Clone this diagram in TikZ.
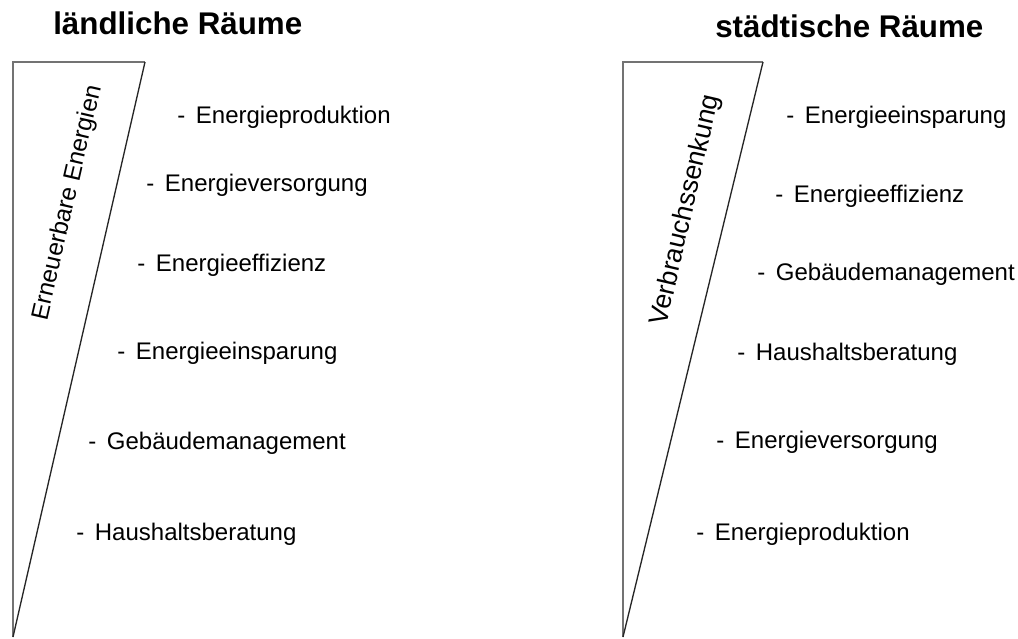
\documentclass[tikz,border=0pt]{standalone}
\usepackage{fontspec}
\setmainfont{Liberation Sans}
\begin{document}
\begin{tikzpicture}[x=0.75pt,y=-0.75pt,
  titel/.style={anchor=base west,inner sep=0pt,font=\fontsize{23.5}{28}\selectfont\bfseries},
  punkt/.style={anchor=base west,inner sep=0pt,font=\fontsize{18}{21}\selectfont},
  schraeg/.style={inner sep=0pt,rotate=77},
  keil/.style={draw=black!55,line width=1.6pt},
  kante/.style={draw=black!85,line width=1pt}]
\useasboundingbox (0,0) rectangle (1018,639);
% laendliche Raeume
\node[titel] (tland) at (53,35) {ländliche Räume};
\coordinate (lu) at (13,637);
\coordinate (lo) at (13,62);
\coordinate (lr) at (145,62);
\draw[keil] (lu) -- (lo) -- (lr);
\draw[kante] (lr) -- (lu);
\node[schraeg,font=\fontsize{18.3}{22}\selectfont] (ern) at (68,203) {Erneuerbare Energien};
\node[punkt] (l1) at (177,123) {-\, Energieproduktion};
\node[punkt] (l2) at (146,191) {-\, Energieversorgung};
\node[punkt] (l3) at (137,271) {-\, Energieeffizienz};
\node[punkt] (l4) at (117,359) {-\, Energieeinsparung};
\node[punkt] (l5) at (88,449) {-\, Gebäudemanagement};
\node[punkt] (l6) at (76,540) {-\, Haushaltsberatung};
% staedtische Raeume
\node[titel] (tstadt) at (715,37) {städtische Räume};
\coordinate (su) at (623,637);
\coordinate (so) at (623,62);
\coordinate (sr) at (763,62);
\draw[keil] (su) -- (so) -- (sr);
\draw[kante] (sr) -- (su);
\node[schraeg,font=\fontsize{20}{24}\selectfont] (verb) at (686,210) {Verbrauchssenkung};
\node[punkt] (s1) at (786,123) {-\, Energieeinsparung};
\node[punkt] (s2) at (775,202) {-\, Energieeffizienz};
\node[punkt] (s3) at (757,280) {-\, Gebäudemanagement};
\node[punkt] (s4) at (737,360) {-\, Haushaltsberatung};
\node[punkt] (s5) at (716,448) {-\, Energieversorgung};
\node[punkt] (s6) at (696,540) {-\, Energieproduktion};
\end{tikzpicture}
\end{document}
